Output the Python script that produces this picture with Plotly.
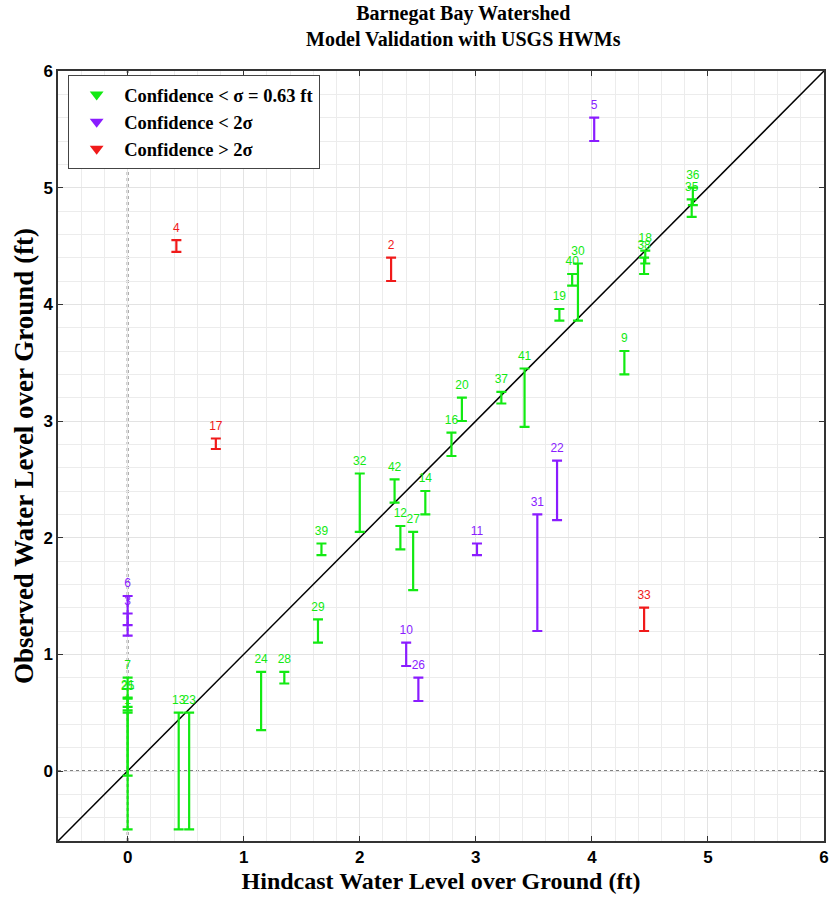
import plotly.graph_objects as go

# ---- data (hindcast x, observed low / high) ----
green_ids = ["7", "1", "25", "21", "13", "23", "24", "28", "29", "39", "32", "42", "12", "27",
             "14", "16", "20", "37", "41", "19", "40", "30", "9", "18", "38", "36", "35"]
green_x = [0.0, 0.0, 0.0, 0.0, 0.44, 0.53, 1.15, 1.35, 1.64, 1.67, 2.00, 2.30, 2.35, 2.46,
           2.565, 2.79, 2.88, 3.22, 3.42, 3.72, 3.83, 3.88, 4.28, 4.46, 4.45, 4.87, 4.86]
green_lo = [-0.04, -0.50, 0.52, 0.55, -0.50, -0.50, 0.35, 0.75, 1.10, 1.85, 2.05, 2.30, 1.90, 1.55,
            2.20, 2.70, 3.00, 3.15, 2.95, 3.86, 4.16, 3.86, 3.40, 4.35, 4.26, 4.85, 4.75]
green_hi = [0.80, 0.50, 0.62, 0.63, 0.50, 0.50, 0.85, 0.85, 1.30, 1.95, 2.55, 2.50, 2.10, 2.05,
            2.40, 2.90, 3.20, 3.25, 3.45, 3.96, 4.26, 4.35, 3.60, 4.46, 4.40, 5.00, 4.90]

purple_ids = ["6", "3", "10", "26", "11", "31", "22", "5"]
purple_x = [0.0, 0.0, 2.40, 2.505, 3.01, 3.53, 3.70, 4.02]
purple_lo = [1.25, 1.16, 0.90, 0.60, 1.85, 1.20, 2.15, 5.40]
purple_hi = [1.50, 1.35, 1.10, 0.80, 1.95, 2.20, 2.66, 5.60]

red_ids = ["4", "2", "17", "33"]
red_x = [0.42, 2.27, 0.76, 4.45]
red_lo = [4.45, 4.20, 2.76, 1.20]
red_hi = [4.55, 4.40, 2.85, 1.40]

legend_names = ["Confidence < \u03c3 = 0.63 ft", "Confidence < 2\u03c3", "Confidence > 2\u03c3"]
axis_min, axis_max = -0.6, 6.0
tick_vals = [0, 1, 2, 3, 4, 5, 6]

GREEN = "#12ea12"
PURPLE = "#8a1cff"
RED = "#f01a1a"
SERIF = "Liberation Serif, Times New Roman"
SANS = "Liberation Sans, Arial"

groups = [
    (green_ids, green_x, green_lo, green_hi, GREEN, legend_names[0]),
    (purple_ids, purple_x, purple_lo, purple_hi, PURPLE, legend_names[1]),
    (red_ids, red_x, red_lo, red_hi, RED, legend_names[2]),
]

fig = go.Figure()

# 1:1 line
fig.add_trace(go.Scatter(x=[axis_min, axis_max], y=[axis_min, axis_max], mode="lines",
                         line=dict(color="black", width=1.5), showlegend=False, hoverinfo="skip"))

for ids, xs, lo, hi, col, name in groups:
    mid = [(a + b) / 2 for a, b in zip(lo, hi)]
    half = [(b - a) / 2 for a, b in zip(lo, hi)]
    fig.add_trace(go.Scatter(
        x=xs, y=mid, mode="markers",
        marker=dict(size=1, color=col, opacity=0),
        error_y=dict(type="data", array=half, symmetric=True, color=col, thickness=2.2, width=5),
        showlegend=False))
    fig.add_trace(go.Scatter(
        x=xs, y=[h + 0.1 for h in hi], mode="text", text=ids,
        textfont=dict(family=SANS, size=12, color=col),
        showlegend=False, hoverinfo="skip"))

# legend-only entries
for ids, xs, lo, hi, col, name in groups:
    fig.add_trace(go.Scatter(x=[None], y=[None], mode="markers", name=name,
                             marker=dict(symbol="triangle-down", size=12, color=col)))

# dotted zero lines
fig.add_shape(type="line", xref="x", yref="y", x0=0, x1=0, y0=axis_min, y1=axis_max,
              line=dict(color="#808080", width=2, dash="dot"), layer="below")
fig.add_shape(type="line", xref="x", yref="y", x0=axis_min, x1=axis_max, y0=0, y1=0,
              line=dict(color="#808080", width=2, dash="dot"), layer="below")

# title
fig.add_annotation(text="<b>Barnegat Bay Watershed<br>Model Validation with USGS HWMs</b>",
                   xref="paper", yref="paper", x=0.529, y=1.058, xanchor="center", yanchor="middle",
                   showarrow=False, align="center",
                   font=dict(family=SERIF, size=20, color="black"))

axis_common = dict(
    range=[axis_min, axis_max], tickvals=tick_vals, showgrid=True, gridcolor="#e3e3e3", gridwidth=1,
    minor=dict(dtick=0.2, tick0=0, showgrid=True, gridcolor="#ececec", gridwidth=1),
    showline=True, linecolor="#333333", linewidth=1.5, mirror="ticks",
    ticks="inside", ticklen=5, tickcolor="#333333", zeroline=False,
    tickfont=dict(family=SANS, size=17, color="black", weight="bold"),
)

fig.update_layout(
    width=835, height=901,
    margin=dict(l=58, r=6, t=71, b=60),
    paper_bgcolor="white", plot_bgcolor="white",
    xaxis=dict(**axis_common,
               title=dict(text="<b>Hindcast Water Level over Ground (ft)</b>", standoff=6,
                          font=dict(family=SERIF, size=24, color="black"))),
    yaxis=dict(**axis_common,
               title=dict(text="<b>Observed Water Level over Ground (ft)</b>", standoff=2,
                          font=dict(family=SERIF, size=27, color="black"))),
    legend=dict(x=0.013, y=0.995, xanchor="left", yanchor="top",
                bgcolor="white", bordercolor="#444444", borderwidth=1.2,
                font=dict(family=SERIF, size=18.5, color="black", weight="bold"),
                itemsizing="constant", itemwidth=45, tracegroupgap=0),
    showlegend=True,
)

fig.write_html("out.html")
